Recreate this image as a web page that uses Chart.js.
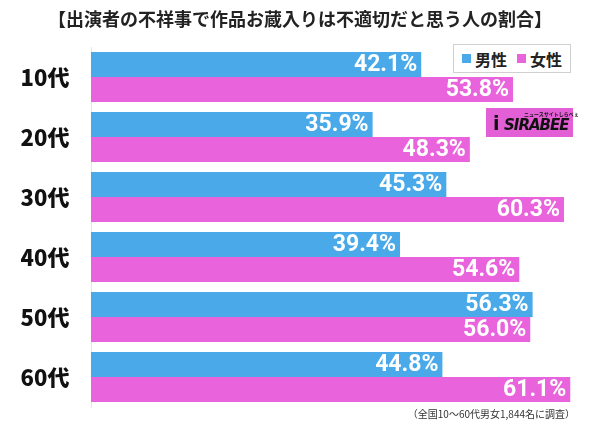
<!DOCTYPE html>
<html>
<head>
<meta charset="utf-8">
<script src="https://cdn.jsdelivr.net/npm/chart.js@4"></script>
<style>
  html, body { margin: 0; padding: 0; background: #fff; }
  #wrap { position: relative; width: 600px; height: 424px; overflow: hidden; }
  #chart { position: absolute; left: 0; top: 0; }
  .title {
    position: absolute; left: 0; top: 5px; width: 600px; text-align: center;
    font-family: "Noto Sans CJK JP", sans-serif; font-weight: 700; font-size: 18px; color: #222;
  }
  .legend {
    position: absolute; left: 453px; top: 44px; width: 116px; height: 27px;
    border: 1px solid #d0d0d0; background: #fff;
    font-family: "Noto Sans CJK JP", sans-serif; font-weight: 700; font-size: 16px; color: #222;
    display: flex; align-items: center; justify-content: center; gap: 10px;
  }
  .legend span { display: flex; align-items: center; }
  .legend i { display: inline-block; width: 9px; height: 9px; margin-right: 4px; }
  .logo {
    position: absolute; left: 486px; top: 108px; width: 87px; height: 29px; background: #e35fd5;
  }
  .logo .sub {
    position: absolute; left: 38px; top: 2px; font-family: "Noto Sans CJK JP", sans-serif;
    font-size: 5px; font-weight: 700; color: #111; white-space: nowrap;
  }
  .logo .main {
    position: absolute; left: 18px; top: 9px; font-family: "DejaVu Sans", sans-serif;
    font-size: 15px; line-height: 16px; font-weight: 700; font-style: italic; color: #111; letter-spacing: -1px;
  }
  .logo .ic {
    position: absolute; left: 7px; top: 6px; font-family: "DejaVu Sans", sans-serif;
    font-size: 19px; font-weight: 700; color: #111; line-height: 19px;
  }
  .note {
    position: absolute; right: 25px; top: 406px;
    font-family: "Noto Sans CJK JP", sans-serif; font-size: 10px; color: #333;
  }
</style>
</head>
<body>
<div id="wrap">
  <canvas id="chart" width="600" height="424"></canvas>
  <div class="title">【出演者の不祥事で作品お蔵入りは不適切だと思う人の割合】</div>
  <div class="legend">
    <span><i style="background:#4aa9e8"></i>男性</span>
    <span><i style="background:#e963dc"></i>女性</span>
  </div>
  <div class="logo"><span class="ic">i</span><span class="sub">ニュースサイトしらべぇ</span><span class="main">SIRABEE</span></div>
  <div class="note">（全国10～60代男女1,844名に調査）</div>
</div>
<script>
// データ
const ageGroups = ['10代', '20代', '30代', '40代', '50代', '60代'];
const maleValues = [42.1, 35.9, 45.3, 39.4, 56.3, 44.8];
const femaleValues = [53.8, 48.3, 60.3, 54.6, 56.0, 61.1];

const maleColor = '#4aa9e8';
const femaleColor = '#e963dc';

// バーの中に数値を描く
const valueLabels = {
  id: 'valueLabels',
  afterDatasetsDraw(chart) {
    const ctx = chart.ctx;
    ctx.save();
    ctx.font = '700 23px Roboto, "Noto Sans", sans-serif';
    ctx.fillStyle = '#fff';
    ctx.textAlign = 'right';
    ctx.textBaseline = 'middle';
    chart.data.datasets.forEach((ds, di) => {
      chart.getDatasetMeta(di).data.forEach((bar, i) => {
        ctx.fillText(ds.data[i].toFixed(1) + '%', bar.x - 4, bar.y + 1);
      });
    });
    ctx.restore();
  }
};

// 年代ラベル
const categoryLabels = {
  id: 'categoryLabels',
  afterDraw(chart) {
    const ctx = chart.ctx;
    const yScale = chart.scales.y;
    ctx.save();
    ctx.font = '900 22px "Noto Sans CJK JP", sans-serif';
    ctx.fillStyle = '#111';
    ctx.textAlign = 'center';
    ctx.textBaseline = 'middle';
    ageGroups.forEach((label, i) => {
      ctx.fillText(label, 45, yScale.getPixelForValue(i) + 1);
    });
    ctx.restore();
  }
};

new Chart(document.getElementById('chart'), {
  type: 'bar',
  data: {
    labels: ageGroups,
    datasets: [
      { label: '男性', data: maleValues, backgroundColor: maleColor },
      { label: '女性', data: femaleValues, backgroundColor: femaleColor }
    ]
  },
  options: {
    indexAxis: 'y',
    responsive: false,
    animation: false,
    layout: { padding: { left: 83, right: 7, top: 47, bottom: 17 } },
    datasets: { bar: { categoryPercentage: 50 / 60, barPercentage: 1 } },
    plugins: { legend: { display: false }, tooltip: { enabled: false } },
    scales: {
      x: { display: false, min: 0, max: 64 },
      y: {
        ticks: { display: false },
        grid: { display: false },
        border: { display: true, color: '#e6e6e6' }
      }
    }
  },
  plugins: [valueLabels, categoryLabels]
});
</script>
</body>
</html>
